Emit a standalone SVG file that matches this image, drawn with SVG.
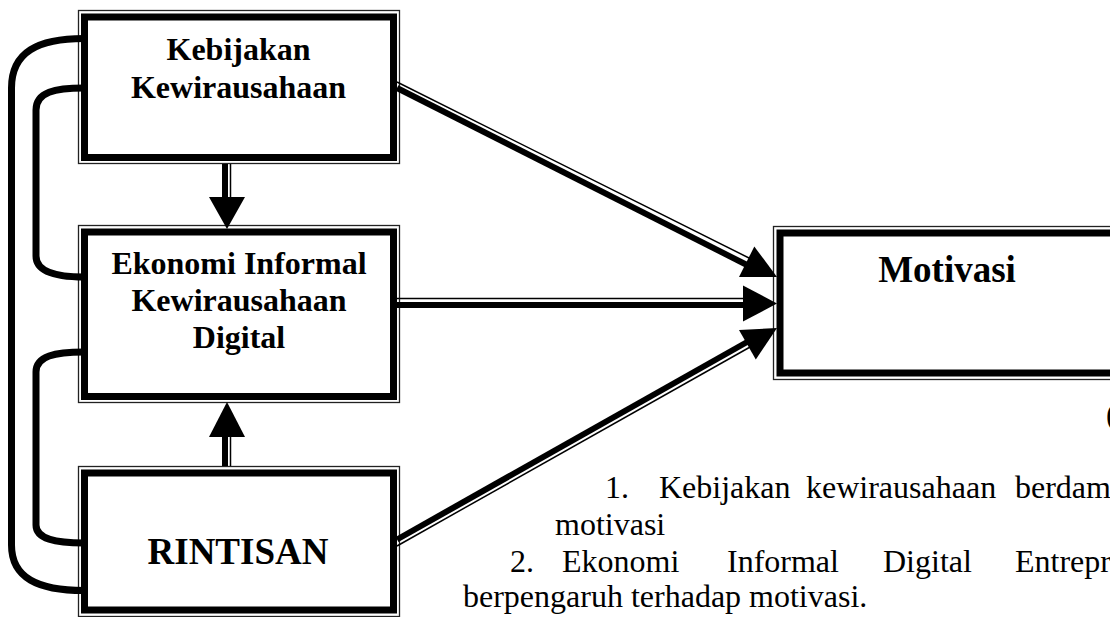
<svg xmlns="http://www.w3.org/2000/svg" width="1110" height="617" viewBox="0 0 1110 617">
  <style>
    .outer { fill: #ffffff; stroke: #222222; stroke-width: 1.3; }
    .inner { fill: none; stroke: #000000; stroke-width: 7; }
    .title { font-family: "Liberation Serif", "Times New Roman", serif; font-weight: bold; font-size: 32px; fill: #000; text-anchor: middle; }
    .big { font-size: 37px; }
    .body { font-family: "Liberation Serif", "Times New Roman", serif; font-size: 32px; fill: #000; }
    .loop { fill: none; stroke: #000; stroke-width: 7; }
    .thick { stroke: #000; stroke-width: 6; fill: none; }
    .thin { stroke: #000; stroke-width: 1.5; fill: none; }
    .head { fill: #000; stroke: none; }
  </style>

  <g id="node-kebijakan">
    <rect class="outer" x="78.5" y="10.5" width="321" height="153"/>
    <rect class="inner" x="84.5" y="17" width="309" height="140.5"/>
    <text class="title" x="238.5" y="60">Kebijakan</text>
    <text class="title" x="238.5" y="98">Kewirausahaan</text>
  </g>

  <g id="node-ekonomi">
    <rect class="outer" x="78.5" y="225.5" width="321" height="177"/>
    <rect class="inner" x="84.5" y="232" width="309" height="164.5"/>
    <text class="title" x="239" y="274">Ekonomi Informal</text>
    <text class="title" x="239" y="311">Kewirausahaan</text>
    <text class="title" x="239" y="348">Digital</text>
  </g>

  <g id="node-rintisan">
    <rect class="outer" x="78.5" y="466.5" width="321" height="150"/>
    <rect class="inner" x="84.5" y="473" width="309" height="137"/>
    <text class="title big" x="238" y="564">RINTISAN</text>
  </g>

  <g id="node-motivasi">
    <rect class="outer" x="773.5" y="226.5" width="360" height="153"/>
    <rect class="inner" x="780" y="233" width="350" height="140"/>
    <text class="title big" x="947" y="282">Motivasi</text>
  </g>

  <g id="connectors">
    <!-- feedback loops on the left -->
    <path class="loop" d="M 84 38.5 C 38 38.5, 11.5 52, 11.5 88 L 11.5 545 C 11.5 578, 38 590.5, 84 590.5"/>
    <path class="loop" d="M 84 88 C 55 88, 36 92, 36 110 L 36 256 C 36 271, 55 277, 84 277"/>
    <path class="loop" d="M 84 352 C 55 352, 36 356, 36 372 L 36 525 C 36 539, 55 543, 84 543"/>

    <!-- Kebijakan -> Ekonomi (down) -->
    <line class="thick" x1="225" y1="164" x2="225" y2="200"/>
    <line class="thin" x1="230.5" y1="164" x2="230.5" y2="200"/>
    <polygon class="head" points="209,197 245,197 227,229"/>

    <!-- Rintisan -> Ekonomi (up) -->
    <line class="thick" x1="225" y1="466" x2="225" y2="434"/>
    <line class="thin" x1="230.5" y1="466" x2="230.5" y2="434"/>
    <polygon class="head" points="209,437 245,437 227,402"/>

    <!-- Kebijakan -> Motivasi -->
    <line class="thick" x1="397" y1="88" x2="748" y2="265.5"/>
    <line class="thin" x1="397" y1="82" x2="751" y2="259"/>
    <polygon class="head" points="739,277 754.3,246.5 777,277"/>

    <!-- Ekonomi -> Motivasi -->
    <line class="thick" x1="397" y1="305" x2="746" y2="305"/>
    <line class="thin" x1="397" y1="298.5" x2="746" y2="298.5"/>
    <polygon class="head" points="743,285.5 743,321.5 777,303.5"/>

    <!-- Rintisan -> Motivasi -->
    <line class="thick" x1="397" y1="539.5" x2="748" y2="341.5"/>
    <line class="thin" x1="397" y1="546" x2="751" y2="346.5"/>
    <polygon class="head" points="739,329.9 755.8,359.5 777,328"/>
  </g>

  <g id="notes">
    <text class="body" x="1106" y="425">(</text>
    <text class="body" x="605" y="498">1.</text>
    <text class="body" x="659" y="498">Kebijakan</text>
    <text class="body" x="806" y="498">kewirausahaan</text>
    <text class="body" x="1015" y="498">berdam</text>
    <text class="body" x="555" y="535">motivasi</text>
    <text class="body" x="510" y="572">2.</text>
    <text class="body" x="562" y="572">Ekonomi</text>
    <text class="body" x="727" y="572">Informal</text>
    <text class="body" x="883" y="572">Digital</text>
    <text class="body" x="1015" y="572">Entrepr</text>
    <text class="body" x="463" y="607">berpengaruh terhadap motivasi.</text>
  </g>
</svg>
